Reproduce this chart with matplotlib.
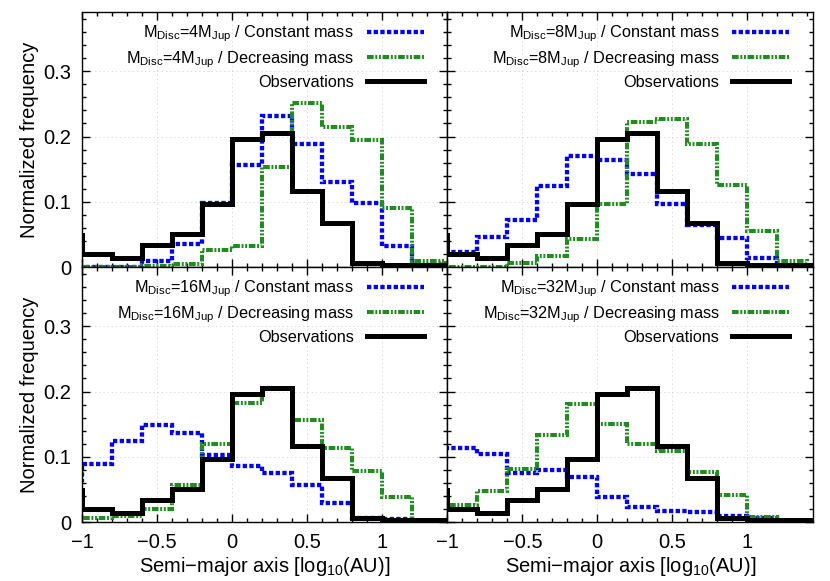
import matplotlib
matplotlib.use('Agg')
import matplotlib.pyplot as plt
from matplotlib.ticker import MultipleLocator, FuncFormatter

plt.rcParams['font.family'] = ['Liberation Sans', 'DejaVu Sans']
plt.rcParams['lines.scale_dashes'] = False

# bin edges in log10(AU); first and last bins sit just outside the plotted range
bin_edges = [-1.2, -1.0, -0.8, -0.6, -0.4, -0.2, 0.0, 0.2, 0.4, 0.6, 0.8, 1.0, 1.2, 1.4, 1.6]

observations = [0.05, 0.02, 0.015, 0.034, 0.051, 0.097, 0.196, 0.205, 0.117, 0.068, 0.007, 0.003, 0.003, 0.003]

const_4 = [0.0, 0.0, 0.0, 0.009, 0.036, 0.098, 0.157, 0.232, 0.189, 0.13, 0.098, 0.033, 0.004, 0.0]
decr_4 = [0.0, 0.0, 0.0, 0.002, 0.005, 0.027, 0.033, 0.154, 0.251, 0.215, 0.194, 0.091, 0.01, 0.006]

const_8 = [0.023, 0.023, 0.046, 0.073, 0.124, 0.171, 0.164, 0.142, 0.097, 0.064, 0.045, 0.014, 0.0, 0.0]
decr_8 = [0.0, 0.0, 0.0, 0.006, 0.018, 0.043, 0.097, 0.222, 0.227, 0.188, 0.126, 0.055, 0.009, 0.0]

const_16 = [0.064, 0.089, 0.124, 0.149, 0.137, 0.103, 0.086, 0.076, 0.057, 0.029, 0.006, 0.005, 0.0, 0.0]
decr_16 = [0.006, 0.006, 0.009, 0.021, 0.057, 0.12, 0.183, 0.205, 0.157, 0.114, 0.078, 0.039, 0.0, 0.0]

const_32 = [0.114, 0.114, 0.104, 0.075, 0.08, 0.07, 0.039, 0.023, 0.018, 0.016, 0.01, 0.006, 0.0, 0.0]
decr_32 = [0.027, 0.027, 0.048, 0.082, 0.133, 0.181, 0.151, 0.12, 0.109, 0.077, 0.042, 0.008, 0.0, 0.0]

disc_masses = ['4', '8', '16', '32']
const_runs = [const_4, const_8, const_16, const_32]
decr_runs = [decr_4, decr_8, decr_16, decr_32]

blue_dash = (0, (3.1, 1.7))
green_dash = (0, (4.8, 1.2, 1.4, 1.2, 1.4, 1.2))


def fmt(v, pos):
    return f'{v:g}'.replace('-', '\u2212')


fig, axes = plt.subplots(2, 2, figsize=(8.3, 5.81), dpi=100, sharex=True, sharey=True)
fig.subplots_adjust(left=0.0988, right=0.9795, top=0.9788, bottom=0.101, wspace=0, hspace=0)

for ax, mass, const, decr in zip(axes.flat, disc_masses, const_runs, decr_runs):
    ax.grid(True, which='major', color='#cccccc', linestyle=(0, (1, 2)), linewidth=0.5)
    ax.set_axisbelow(True)

    ax.stairs(const, bin_edges, baseline=None, color='#0000ff', linewidth=3.1, linestyle=blue_dash,
              label=r'M$_\mathregular{Disc}$=' + mass + r'M$_\mathregular{Jup}$ / Constant mass')
    ax.stairs(decr, bin_edges, baseline=None, color='#228b22', linewidth=2.9, linestyle=green_dash,
              label=r'M$_\mathregular{Disc}$=' + mass + r'M$_\mathregular{Jup}$ / Decreasing mass')
    ax.stairs(observations, bin_edges, baseline=None, color='black', linewidth=3.6,
              label='Observations')

    ax.set_xlim(-1, 1.44)
    ax.set_ylim(0, 0.39)
    ax.xaxis.set_major_locator(MultipleLocator(0.5))
    ax.xaxis.set_minor_locator(MultipleLocator(0.1))
    ax.yaxis.set_major_locator(MultipleLocator(0.1))
    ax.yaxis.set_minor_locator(MultipleLocator(0.02))
    ax.xaxis.set_major_formatter(FuncFormatter(fmt))
    ax.yaxis.set_major_formatter(FuncFormatter(fmt))
    ax.tick_params(which='both', direction='in', top=True, right=True, width=1.0, labelsize=14.5)
    ax.tick_params(which='major', length=6, pad=8)
    ax.tick_params(which='minor', length=3)
    for sp in ax.spines.values():
        sp.set_linewidth(1.0)

    ax.legend(loc='upper right', bbox_to_anchor=(0.935, 0.955), frameon=False, markerfirst=False,
              fontsize=11.7, handlelength=3.5, handletextpad=0.8, labelspacing=0.3,
              borderaxespad=0, borderpad=0)

for ax in axes[1]:
    ax.set_xlabel('Semi\u2212major axis [log$_\\mathregular{10}$(AU)]', fontsize=14.5, labelpad=2)
for ax in axes[:, 0]:
    ax.set_ylabel('Normalized frequency', fontsize=14.5, labelpad=3)
for ax in axes[:, 1]:
    ax.tick_params(labelleft=False)
for ax in axes[0]:
    ax.tick_params(labelbottom=False)

fig.savefig('out.png', dpi=100)
